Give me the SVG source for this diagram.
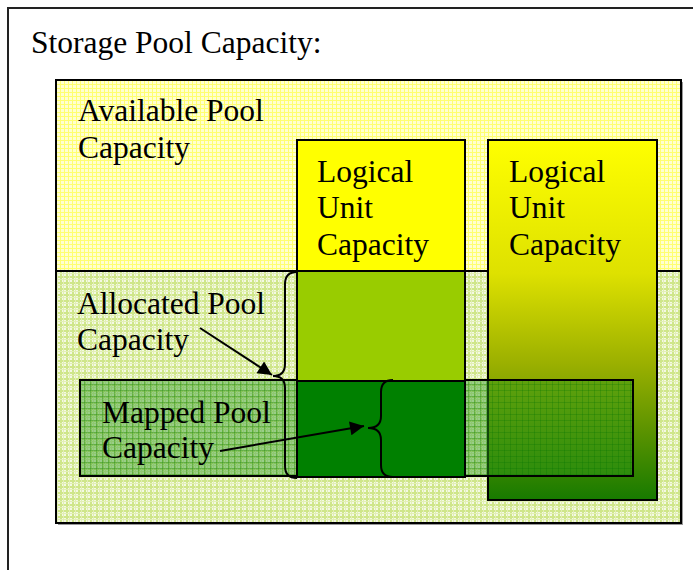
<svg xmlns="http://www.w3.org/2000/svg" width="693" height="570" viewBox="0 0 693 570">
  <style>
    .t { font-family: "Liberation Serif", "Times New Roman", serif; font-size: 31.5px; fill: #000; }
    .box { stroke: #000; stroke-width: 2; }
    .conn { fill: none; stroke: #000; stroke-width: 2; }
  </style>
  <defs>
    <pattern id="yGrid" width="4" height="4" patternUnits="userSpaceOnUse">
      <rect width="4" height="4" fill="#ffffd0"/>
      <rect width="4" height="1" fill="#ffff70"/>
      <rect width="1" height="4" fill="#ffff70"/>
    </pattern>
    <pattern id="gGrid" width="6" height="6" patternUnits="userSpaceOnUse">
      <rect width="6" height="6" fill="#f4f9e4"/>
      <rect width="6" height="2" fill="#cfe68a"/>
      <rect width="2" height="6" fill="#cfe68a"/>
      <rect x="3" width="1" height="6" fill="#e2efb5"/>
      <rect y="3" width="6" height="1" fill="#e2efb5"/>
    </pattern>
    <pattern id="mGrid" width="6" height="6" patternUnits="userSpaceOnUse">
      <rect width="6" height="6" fill="#2a9a1a" fill-opacity="0.45"/>
      <rect width="6" height="1" fill="#007000" fill-opacity="0.25"/>
      <rect width="1" height="6" fill="#007000" fill-opacity="0.25"/>
    </pattern>
    <linearGradient id="luGrad" x1="0" y1="0" x2="0" y2="1">
      <stop offset="0" stop-color="#ffff00"/>
      <stop offset="0.37" stop-color="#dee100"/>
      <stop offset="0.62" stop-color="#9bb000"/>
      <stop offset="0.8" stop-color="#5e9400"/>
      <stop offset="1" stop-color="#177a00"/>
    </linearGradient>
    <marker id="arr" viewBox="0 0 10 10" refX="10" refY="5" markerWidth="8" markerHeight="7" markerUnits="strokeWidth" orient="auto">
      <path d="M0,0 L10,5 L0,10 z" fill="#000"/>
    </marker>
  </defs>

  <rect width="693" height="570" fill="#fff"/>
  <path d="M693,8 H8 V570" fill="none" stroke="#222" stroke-width="2"/>
  <text class="t" x="31" y="53">Storage Pool Capacity:</text>

  <g id="pool">
    <rect x="58" y="82" width="625" height="443" fill="#999"/>
    <rect x="56" y="80" width="625" height="191" fill="url(#yGrid)"/>
    <rect x="56" y="271" width="625" height="252" fill="url(#gGrid)"/>
    <rect x="56" y="80" width="625" height="443" fill="none" class="box"/>
    <line x1="56" y1="271" x2="681" y2="271" stroke="#000" stroke-width="2"/>
    <text class="t" x="78" y="121">Available Pool</text>
    <text class="t" x="78" y="158">Capacity</text>
    <text class="t" x="77" y="314">Allocated Pool</text>
    <text class="t" x="77" y="350">Capacity</text>
  </g>

  <g id="lu2">
    <rect x="488" y="140" width="169" height="360" fill="url(#luGrad)" class="box"/>
    <text class="t" x="509" y="182">Logical</text>
    <text class="t" x="509" y="218">Unit</text>
    <text class="t" x="509" y="255">Capacity</text>
  </g>

  <g id="mapped">
    <rect x="80" y="380" width="553" height="96" fill="url(#mGrid)" class="box"/>
    <text class="t" x="102" y="423">Mapped Pool</text>
    <text class="t" x="102" y="458">Capacity</text>
  </g>

  <g id="lu1">
    <rect x="297" y="140" width="168" height="131" fill="#ffff00" class="box"/>
    <rect x="297" y="271" width="168" height="110" fill="#99cc00" class="box"/>
    <rect x="297" y="381" width="168" height="96" fill="#008000" class="box"/>
    <text class="t" x="317" y="182">Logical</text>
    <text class="t" x="317" y="218">Unit</text>
    <text class="t" x="317" y="255">Capacity</text>
  </g>

  <g id="connectors">
    <path class="conn" d="M297,272 Q285,272 285,284 L285,364 Q285,376 273,376 Q285,376 285,388 L285,466 Q285,478 297,478"/>
    <path class="conn" d="M393,380 Q381,380 381,392 L381,416 Q381,428 368,428 Q381,428 381,440 L381,465 Q381,477 393,477"/>
    <line class="conn" x1="200" y1="328" x2="272" y2="375" marker-end="url(#arr)"/>
    <line class="conn" x1="220" y1="451" x2="364" y2="426" marker-end="url(#arr)"/>
  </g>
</svg>
